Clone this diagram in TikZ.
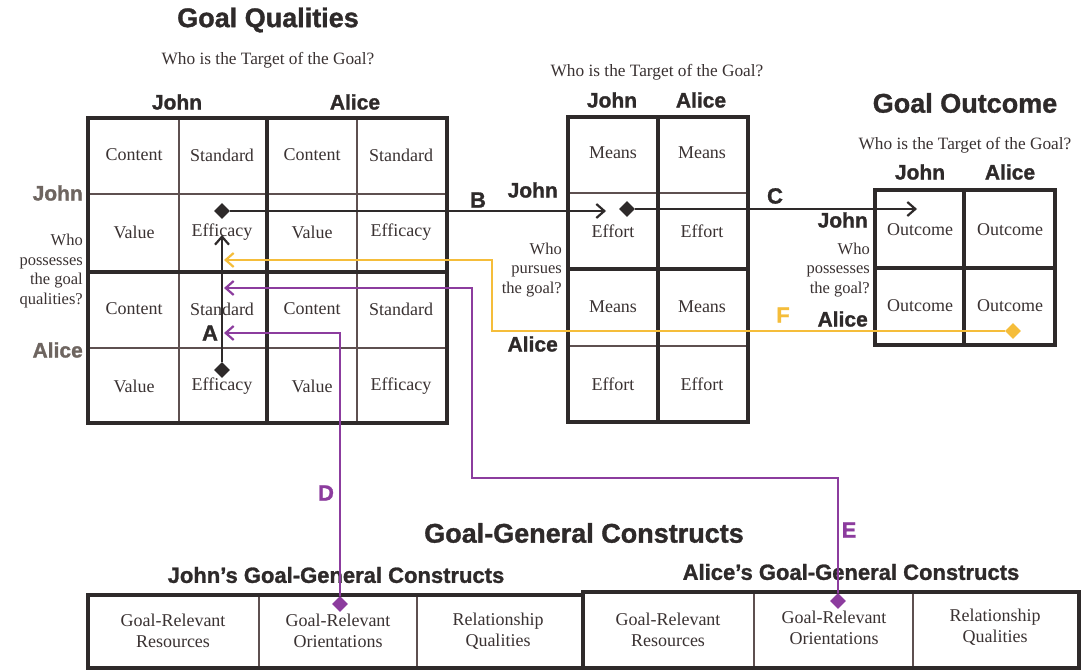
\documentclass[tikz,border=0pt]{standalone}
\usepackage{fontspec}
\setmainfont{Liberation Serif}
\newfontfamily\headfont{Liberation Sans}[BoldFeatures={FakeBold=1.2}]
\usetikzlibrary{arrows.meta,shapes.geometric}

\definecolor{ink}{HTML}{2E2A2A}
\definecolor{celltext}{HTML}{3A3232}
\definecolor{rowgray}{HTML}{6E6560}
\definecolor{gold}{HTML}{F5BD3A}
\definecolor{plum}{HTML}{8C3C9E}
\definecolor{thinline}{HTML}{5E5050}

\tikzset{
  cell/.style={font=\fontsize{18}{21}\selectfont, text=celltext, inner sep=0pt, align=center},
  head/.style={font=\headfont\bfseries\fontsize{21}{24}\selectfont, text=ink, inner sep=0pt},
  sidehead/.style={head, anchor=east},
  title/.style={font=\headfont\bfseries\fontsize{27}{30}\selectfont, text=ink, inner sep=0pt},
  question/.style={font=\fontsize{16.5}{19.5}\selectfont, text=celltext, inner sep=0pt, align=right},
  target/.style={font=\fontsize{17.3}{20}\selectfont, text=celltext, inner sep=0pt},
  tag/.style={font=\headfont\bfseries\fontsize{22}{24}\selectfont, inner sep=0pt},
  frame/.style={line width=3.8pt, draw=ink},
  rule/.style={line width=1.1pt, draw=thinline},
  tipdot/.style={diamond, minimum size=16pt, inner sep=0pt},
  arr/.style={line width=2.2pt, -{Straight Barb[length=8pt,width=14pt,line width=2.2pt]}},
}

\begin{document}
\begin{tikzpicture}[x=1pt,y=-1pt]
\useasboundingbox[fill=white] (0,0) rectangle (1088,671);

% ---------------- Goal Qualities ----------------
\node[title] (gqTitle) at (268,20) {Goal Qualities};
\node[target] (gqQ) at (268,60) {Who is the Target of the Goal?};
\node[head] (gqJohn) at (177,102) {John};
\node[head] (gqAlice) at (355,102) {Alice};
\node[sidehead, text=rowgray] (gqRowJ) at (83,193) {John};
\node[sidehead, text=rowgray] (gqRowA) at (83,350) {Alice};
\node[question, anchor=east] (gqWho) at (83,271) {Who\\possesses\\the goal\\qualities?};

\draw[rule] (179,118) -- (179,423) (357,118) -- (357,423)
            (88,194) -- (447,194) (88,348) -- (447,348);
\draw[frame] (267,118) -- (267,423) (88,272) -- (447,272);
\draw[frame] (88,118) rectangle (447,423);

\node[cell] (q11) at (134,155) {Content};
\node[cell] (q12) at (222,155) {Standard};
\node[cell] (q13) at (312,155) {Content};
\node[cell] (q14) at (401,155) {Standard};
\node[cell] (q21) at (134,232) {Value};
\node[cell] (q22) at (222,232) {Efficacy};
\node[cell] (q23) at (312,232) {Value};
\node[cell] (q24) at (401,232) {Efficacy};
\node[cell] (q31) at (134,309) {Content};
\node[cell] (q32) at (222,309) {Standard};
\node[cell] (q33) at (312,309) {Content};
\node[cell] (q34) at (401,309) {Standard};
\node[cell] (q41) at (134,386) {Value};
\node[cell] (q42) at (222,386) {Efficacy};
\node[cell] (q43) at (312,386) {Value};
\node[cell] (q44) at (401,386) {Efficacy};

% ---------------- Goal Pursuit ----------------
\node[target] (gpQ) at (657,72) {Who is the Target of the Goal?};
\node[head] (gpJohn) at (612,100) {John};
\node[head] (gpAlice) at (701,100) {Alice};
\node[sidehead] (gpRowJ) at (558,190) {John};
\node[sidehead] (gpRowA) at (558,344) {Alice};
\node[question, anchor=east] (gpWho) at (562,270) {Who\\pursues\\the goal?};

\draw[rule] (568,193) -- (748,193) (568,346) -- (748,346);
\draw[frame] (658,117) -- (658,422) (568,269) -- (748,269);
\draw[frame] (568,117) rectangle (748,422);

\node[cell] (p11) at (613,153) {Means};
\node[cell] (p12) at (702,153) {Means};
\node[cell] (p21) at (613,231) {Effort};
\node[cell] (p22) at (702,231) {Effort};
\node[cell] (p31) at (613,307) {Means};
\node[cell] (p32) at (702,307) {Means};
\node[cell] (p41) at (613,384) {Effort};
\node[cell] (p42) at (702,384) {Effort};

% ---------------- Goal Outcome ----------------
\node[title] (goTitle) at (965,103) {Goal Outcome};
\node[target] (goQ) at (965,145) {Who is the Target of the Goal?};
\node[head] (goJohn) at (920,172) {John};
\node[head] (goAlice) at (1010,172) {Alice};
\node[sidehead] (goRowJ) at (868,220) {John};
\node[sidehead] (goRowA) at (868,319) {Alice};
\node[question, anchor=east] (goWho) at (870,270) {Who\\possesses\\the goal?};

\draw[frame] (964,190) -- (964,345) (875,268) -- (1055,268);
\draw[frame] (875,190) rectangle (1055,345);

\node[cell] (o11) at (920,230) {Outcome};
\node[cell] (o12) at (1010,230) {Outcome};
\node[cell] (o21) at (920,306) {Outcome};
\node[cell] (o22) at (1010,306) {Outcome};

% ---------------- Goal-General Constructs ----------------
\node[title] (ggTitle) at (584,533) {Goal-General Constructs};
\node[head, font=\headfont\bfseries\fontsize{22}{25}\selectfont] (ggJohn) at (336,575) {John’s Goal-General Constructs};
\node[head, font=\headfont\bfseries\fontsize{22}{25}\selectfont] (ggAlice) at (851,572) {Alice’s Goal-General Constructs};

\draw[rule] (259,595) -- (259,668) (417,595) -- (417,668)
            (754,592) -- (754,668) (913,592) -- (913,668);
\draw[frame] (88,595) rectangle (583,668);
\draw[frame] (583,592) rectangle (1079,668);

\node[cell] (gj1) at (173,631) {Goal-Relevant\\Resources};
\node[cell] (gj2) at (338,631) {Goal-Relevant\\Orientations};
\node[cell] (gj3) at (498,631) {Relationship\\Qualities};
\node[cell] (ga1) at (668,630) {Goal-Relevant\\Resources};
\node[cell] (ga2) at (834,628) {Goal-Relevant\\Orientations};
\node[cell] (ga3) at (995,627) {Relationship\\Qualities};

% ---------------- Connectors ----------------
% A: Alice's efficacy toward John's efficacy
\node[tipdot, fill=ink] (aS) at (222,370) {};
\coordinate (aE) at (222,235);
\draw[arr, draw=ink] (aS) -- (aE);
\node[tag, text=ink] (aLab) at (210,333) {A};

% B: efficacy into effort
\node[tipdot, fill=ink] (bS) at (222,211) {};
\coordinate (bE) at (606,211);
\draw[arr, draw=ink] (bS) -- (bE);
\node[tag, text=ink] (bLab) at (478,200) {B};

% C: effort into outcome
\node[tipdot, fill=ink] (cS) at (627,209) {};
\coordinate (cE) at (917,209);
\draw[arr, draw=ink] (cS) -- (cE);
\node[tag, text=ink] (cLab) at (775,196) {C};

% F: Alice's outcome back to John's efficacy
\node[tipdot, fill=gold] (fS) at (1013,331) {};
\coordinate (f1) at (492,260);
\coordinate (fE) at (224,260);
\draw[arr, draw=gold, line width=2.4pt] (fS) -| (f1) -- (fE);
\node[tag, text=gold] (fLab) at (783,315) {F};

% D: John's orientations to Alice's standard
\node[tipdot, fill=plum] (dS) at (340,604) {};
\coordinate (dE) at (224,333);
\draw[arr, draw=plum, line width=1.8pt] (dS) |- (dE);
\node[tag, text=plum] (dLab) at (326,493) {D};

% E: Alice's orientations to Alice's standard
\node[tipdot, fill=plum] (eS) at (838,601) {};
\coordinate (e1) at (472,478);
\coordinate (eE) at (224,288);
\draw[arr, draw=plum, line width=1.8pt] (eS) |- (e1) |- (eE);
\node[tag, text=plum] (eLab) at (849,530) {E};

\end{tikzpicture}
\end{document}
